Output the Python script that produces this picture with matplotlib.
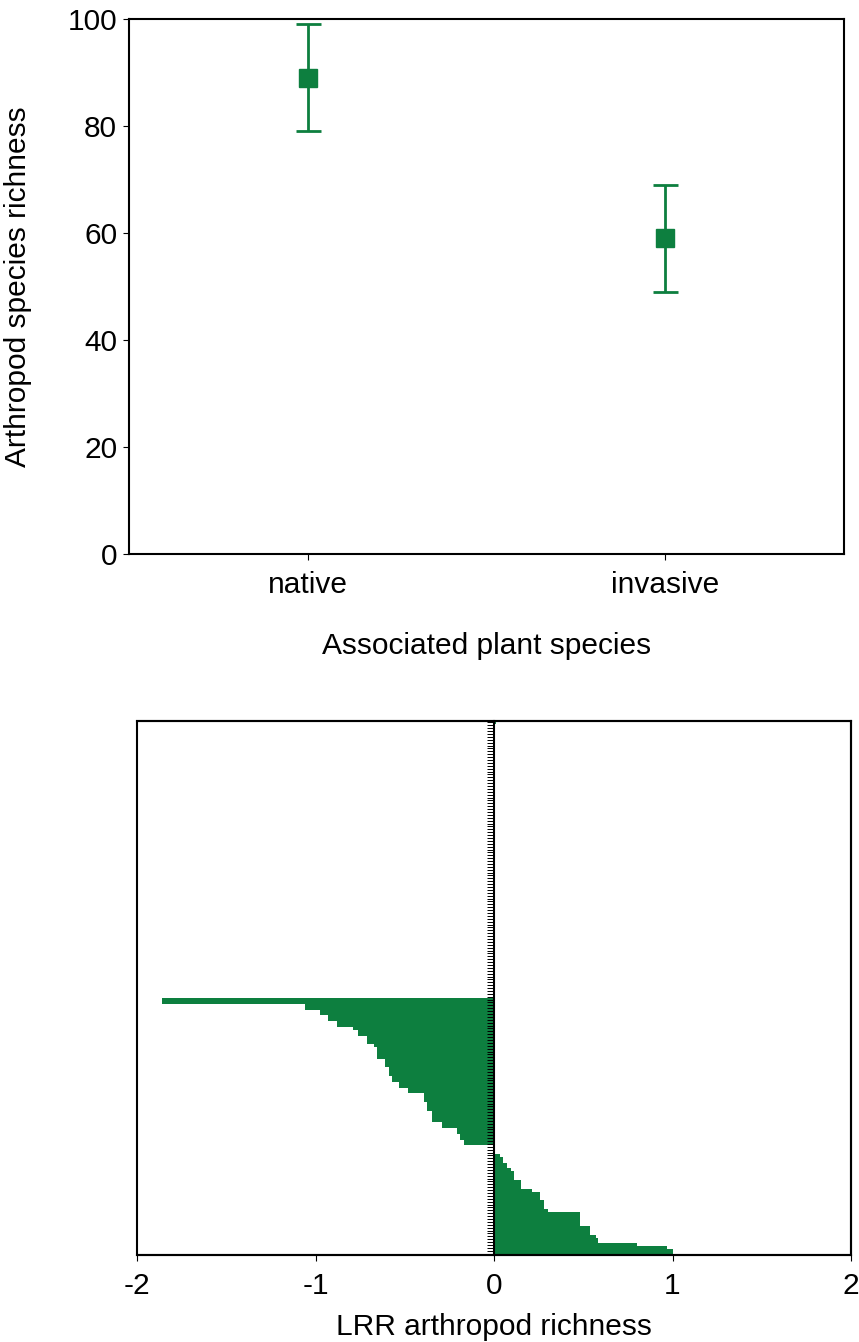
import numpy as np
import matplotlib
matplotlib.use("Agg")
import matplotlib.pyplot as plt
from matplotlib.patches import Rectangle

plt.rcParams['font.family'] = ['Liberation Sans', 'DejaVu Sans']
plt.rcParams['axes.unicode_minus'] = False

# top panel: mean richness with error bars
plant_groups = ['native', 'invasive']
richness_mean = [89, 59]
richness_err = [10, 10]

# bottom panel: LRR per study, stored as run-lengths (value, how many rows)
lrr_values = [0.01, 0.0,
              -1.86, -1.06, -0.975, -0.93, -0.88, -0.79, -0.76, -0.71, -0.67, -0.655,
              -0.61, -0.59, -0.57, -0.53, -0.48, -0.39, -0.375, -0.35, -0.29, -0.21,
              -0.19, -0.17,
              0.0,
              0.034, 0.05, 0.07, 0.093, 0.11, 0.15, 0.215, 0.26, 0.28, 0.30, 0.48,
              0.54, 0.57, 0.585, 0.80, 0.97, 1.00]
lrr_counts = [1, 95,
              2, 2, 2, 2, 2, 1, 2, 3, 1, 4,
              3, 3, 2, 2, 2, 3, 3, 4, 2, 2,
              2, 2,
              3,
              1, 2, 2, 1, 3, 3, 1, 3, 3, 1, 5,
              3, 1, 2, 1, 1, 2]
lrr_ticks = [-2, -1, 0, 1, 2]

green = '#0d7f3f'
fs = 21.5

fig = plt.figure(figsize=(8.59, 13.42), dpi=100)

# ---- top chart ----
ax1 = fig.add_axes([0.1502, 0.5872, 0.8324, 0.3987])
xpos = np.arange(len(plant_groups))
ax1.errorbar(xpos, richness_mean, yerr=richness_err, fmt='s', color=green,
             markersize=13, elinewidth=2, capsize=9, capthick=2)
ax1.set_xlim(-0.5, 1.5)
ax1.set_ylim(0, 100)
ax1.set_xticks(xpos)
ax1.set_xticklabels(plant_groups)
ax1.set_yticks([0, 20, 40, 60, 80, 100])
for s in ax1.spines.values():
    s.set_linewidth(1.5)
ax1.tick_params(axis='both', labelsize=fs, length=4.5, width=0.8)
ax1.tick_params(axis='x', pad=8)
ax1.tick_params(axis='y', pad=4)
ax1.set_xlabel('Associated plant species', fontsize=fs)
ax1.set_ylabel('Arthropod species richness', fontsize=fs)
ax1.xaxis.set_label_coords(0.5, -0.145)
ax1.yaxis.set_label_coords(-0.135, 0.5)

# ---- bottom chart ----
lrr = np.repeat(lrr_values, lrr_counts)
n = len(lrr)
ax2 = fig.add_axes([0.1595, 0.0648, 0.8312, 0.3979])
ax2.barh(np.arange(n), lrr, height=1.0, color=green, edgecolor='none')
ax2.set_xlim(-2, 2)
ax2.set_ylim(n - 0.5, -0.5)
ax2.set_xticks(lrr_ticks)
ax2.set_yticks(np.arange(n))
ax2.spines['left'].set_position(('data', 0))
for s in ax2.spines.values():
    s.set_linewidth(1.5)
ax2.add_patch(Rectangle((0, 0), 1, 1, transform=ax2.transAxes, fill=False,
                        lw=1.5, edgecolor='black', clip_on=False, zorder=3))
ax2.tick_params(axis='x', labelsize=fs, length=4.5, width=0.8, pad=8)
ax2.tick_params(axis='y', labelleft=False, length=5, width=0.7)
ax2.set_xlabel('LRR arthropod richness', fontsize=fs)
ax2.xaxis.set_label_coords(0.5, -0.108)

fig.savefig('out.png', dpi=100)
